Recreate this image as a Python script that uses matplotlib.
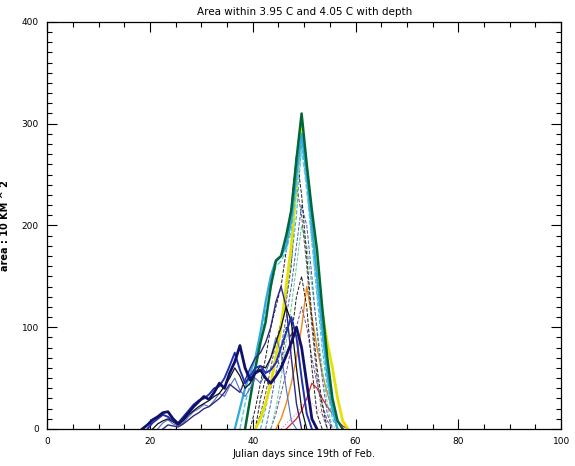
import matplotlib
matplotlib.use("Agg")
import matplotlib.pyplot as plt
from matplotlib.ticker import MultipleLocator

# Each curve: first day, then one value per day (area, 10 km^2)
navy_start = 18.5
navy_vals = [0, 4, 9, 12, 16, 17, 10, 5, 10, 16, 22, 27, 32, 29, 36, 45, 40, 55, 66, 82,
             60, 48, 55, 58, 50, 45, 52, 60, 72, 85, 100, 80, 45, 10, 0]

blue_start = 19.5
blue_vals = [0, 6, 10, 14, 12, 8, 6, 12, 18, 24, 28, 30, 34, 40, 42, 50, 62, 75, 58, 45,
             52, 60, 62, 55, 58, 65, 80, 95, 110, 90, 50, 15, 0]

black_start = 20.5
black_vals = [0, 5, 8, 10, 7, 4, 8, 14, 18, 22, 25, 28, 32, 35, 42, 50, 60, 52, 40, 45,
              55, 62, 60, 70, 85, 100, 120, 105, 60, 20, 0]

purple_start = 22.5
purple_vals = [0, 4, 3, 2, 5, 9, 13, 16, 20, 22, 26, 30, 36, 44, 40, 36, 48, 60, 70, 75,
               85, 100, 125, 140, 120, 70, 25, 0]

steel_start = 21.5
steel_vals = [0, 6, 9, 5, 3, 6, 12, 17, 20, 24, 22, 28, 35, 32, 42, 50, 38, 32, 40, 50,
              45, 55, 70, 90, 75, 40, 8, 0]

cyan_start = 36.5
cyan_vals = [0, 20, 40, 55, 70, 95, 125, 150, 166, 170, 180, 205, 250, 290, 250, 200, 150,
             100, 55, 20, 0]

cyan2_start = 37.5
cyan2_vals = [0, 25, 45, 60, 85, 115, 140, 160, 165, 175, 195, 235, 275, 235, 185, 135,
              90, 50, 15, 0]

green_start = 38.5
green_vals = [0, 30, 60, 85, 105, 140, 165, 170, 190, 215, 265, 310, 260, 215, 176, 120,
              70, 30, 8, 0]

yellow_start = 40.5
yellow_vals = [0, 10, 25, 45, 70, 100, 140, 180, 240, 300, 255, 205, 160, 115, 85, 60,
               30, 8, 0]

orange_start = 44.5
orange_vals = [0, 10, 25, 45, 70, 100, 140, 110, 80, 55, 35, 20, 8, 0]

red_start = 46.5
red_vals = [0, 5, 10, 18, 30, 45, 40, 30, 22, 15, 8, 3, 0]

dash1_start = 39.5
dash1_vals = [0, 20, 45, 70, 100, 120, 140, 175, 220, 270, 230, 170, 110, 60, 25, 0]

dash2_start = 40.5
dash2_vals = [0, 15, 35, 60, 85, 105, 125, 160, 240, 210, 160, 100, 50, 15, 0]

dash3_start = 41.5
dash3_vals = [0, 20, 45, 75, 100, 130, 165, 210, 280, 240, 185, 130, 80, 40, 10, 0]

dash4_start = 42.5
dash4_vals = [0, 25, 55, 80, 110, 140, 180, 220, 200, 150, 95, 50, 15, 0]

dash5_start = 43.5
dash5_vals = [0, 20, 50, 85, 120, 160, 200, 180, 140, 100, 60, 25, 0]

dash6_start = 40.5
dash6_vals = [0, 30, 50, 40, 70, 60, 100, 90, 130, 150, 120, 60, 15, 0]

dash7_start = 43.5
dash7_vals = [0, 15, 35, 55, 80, 100, 120, 100, 70, 45, 25, 8, 0]

pink_start = 45.5
pink_vals = [0, 5, 10, 15, 22, 30, 25, 20, 14, 8, 3, 0]

curves = [
    (pink_start, pink_vals, '#d880c8', ':', 0.8),
    (red_start, red_vals, '#e02020', '-', 0.9),
    (orange_start, orange_vals, '#f08a10', '-', 1.0),
    (dash7_start, dash7_vals, '#7050a0', '--', 0.7),
    (dash6_start, dash6_vals, '#202020', '--', 0.7),
    (dash5_start, dash5_vals, '#60c890', '--', 0.7),
    (dash4_start, dash4_vals, '#4060c0', '--', 0.7),
    (dash3_start, dash3_vals, '#30b8d8', '--', 0.8),
    (dash2_start, dash2_vals, '#555555', '--', 0.7),
    (dash1_start, dash1_vals, '#202020', '--', 0.7),
    (yellow_start, yellow_vals, '#e8e000', '-', 2.0),
    (cyan2_start, cyan2_vals, '#60c8e8', '--', 1.0),
    (cyan_start, cyan_vals, '#30a8e0', '-', 1.6),
    (green_start, green_vals, '#006838', '-', 1.8),
    (steel_start, steel_vals, '#5070c0', '-', 0.8),
    (purple_start, purple_vals, '#302880', '-', 1.0),
    (black_start, black_vals, '#101010', '-', 0.9),
    (blue_start, blue_vals, '#2030b0', '-', 1.4),
    (navy_start, navy_vals, '#10106a', '-', 2.0),
]

fig = plt.figure(figsize=(5.75, 4.66), dpi=100)
ax = fig.add_axes([0.082, 0.0794, 0.894, 0.8736])

for start, vals, col, ls, lw in curves:
    xs = [start + i for i in range(len(vals))]
    ax.plot(xs, vals, color=col, linestyle=ls, linewidth=lw)

ax.set_xlim(0, 100)
ax.set_ylim(0, 400)
ax.xaxis.set_major_locator(MultipleLocator(20))
ax.xaxis.set_minor_locator(MultipleLocator(5))
ax.yaxis.set_major_locator(MultipleLocator(100))
ax.yaxis.set_minor_locator(MultipleLocator(10))
ax.tick_params(which='both', direction='in', top=True, right=True, labelsize=6.5, pad=6)
ax.tick_params(which='major', length=7, width=0.8)
ax.tick_params(which='minor', length=3.5, width=0.8)
for s in ax.spines.values():
    s.set_linewidth(0.9)

ax.set_title('Area within 3.95 C and 4.05 C with depth', fontsize=7.5, pad=5)
ax.set_xlabel('Julian days since 19th of Feb.', fontsize=7, labelpad=2)
ax.set_ylabel('area : 10 KM ^ 2', fontsize=7, fontweight='bold', labelpad=8)

plt.savefig('out.png', dpi=100)
